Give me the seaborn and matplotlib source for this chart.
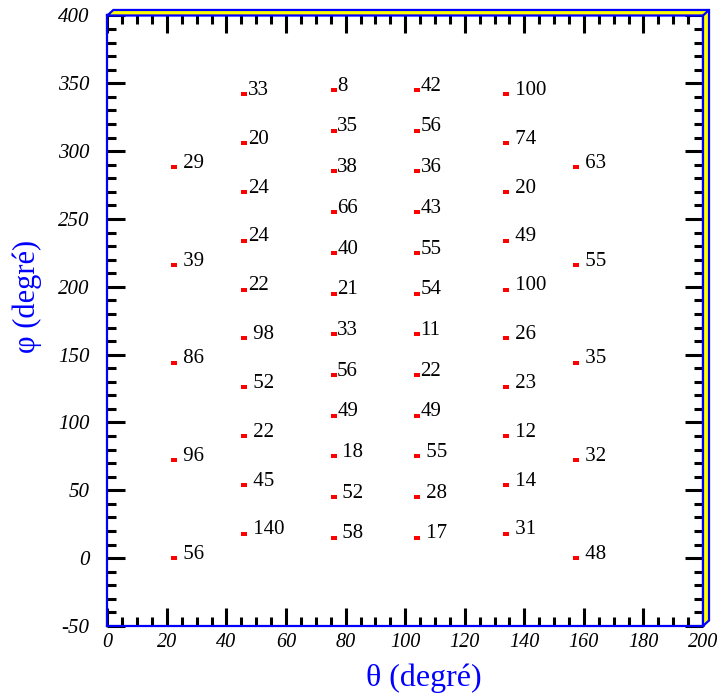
import matplotlib
matplotlib.use("Agg")
import matplotlib.pyplot as plt
from matplotlib.patches import Polygon
from matplotlib.ticker import MultipleLocator
import pandas as pd
import seaborn as sns

# theta position of each column of points
theta_cols = [22.5, 46, 76, 104, 134, 157.5]

# phi positions (three different grids)
phi_five = [0, 72, 144, 216, 288]
phi_ten = [18, 54, 90, 126, 162, 198, 234, 270, 306, 342]
phi_twelve = [15, 45, 75, 105, 135, 165, 195, 225, 255, 285, 315, 345]

# labels, bottom to top (leading space = gap after the marker)
labels_22 = [" 56", " 96", " 86", " 39", " 29"]
labels_46 = [" 140", " 45", " 22", " 52", " 98", "22", "24", "24", "20", "33"]
labels_76 = [" 58", " 52", " 18", "49", "56", "33", "21", "40", "66", "38", "35", "8"]
labels_104 = [" 17", " 28", " 55", "49", "22", "11", "54", "55", "43", "36", "56", "42"]
labels_134 = [" 31", " 14", " 12", " 23", " 26", " 100", " 49", " 20", " 74", " 100"]
labels_157 = [" 48", " 32", " 35", " 55", " 63"]

columns = [
    (theta_cols[0], phi_five, labels_22),
    (theta_cols[1], phi_ten, labels_46),
    (theta_cols[2], phi_twelve, labels_76),
    (theta_cols[3], phi_twelve, labels_104),
    (theta_cols[4], phi_ten, labels_134),
    (theta_cols[5], phi_five, labels_157),
]

rows = []
for th, phis, labs in columns:
    for p, lab in zip(phis, labs):
        rows.append({"theta": th, "phi": p, "label": lab})
df = pd.DataFrame(rows)

sns.set_style("white")
plt.rcParams["font.family"] = ["Liberation Serif", "DejaVu Serif"]
plt.rcParams["axes.unicode_minus"] = False

fig = plt.figure(figsize=(7.17, 6.94), dpi=100)
ax = fig.add_axes([0.1497, 0.098, 0.8308, 0.8797])

rect = [(-1, -0.65), (1, -0.65), (1, 0.65), (-1, 0.65)]
sns.scatterplot(data=df, x="theta", y="phi", ax=ax, color="red", marker=rect,
                s=20, linewidth=0, legend=False, zorder=3)

for _, r in df.iterrows():
    ax.annotate(r["label"], (r["theta"], r["phi"]), xytext=(2.5, -0.5),
                textcoords="offset points", ha="left", va="baseline",
                fontsize=15, color="black")

ax.set_xlim(0, 200)
ax.set_ylim(-50, 400)
ax.xaxis.set_major_locator(MultipleLocator(20))
ax.xaxis.set_minor_locator(MultipleLocator(5))
ax.yaxis.set_major_locator(MultipleLocator(50))
ax.yaxis.set_minor_locator(MultipleLocator(10))
ax.tick_params(which="both", direction="in", top=True, right=True,
               bottom=True, left=True, color="black", width=2.2)
ax.tick_params(which="major", length=13, labelcolor="black")
ax.tick_params(which="minor", length=6.5)
ax.tick_params(axis="x", which="major", pad=5, labelsize=14.5)
ax.tick_params(axis="y", which="major", pad=13, labelsize=15)
for lab in ax.get_xticklabels() + ax.get_yticklabels():
    lab.set_fontstyle("italic")

for sp in ax.spines.values():
    sp.set_color("blue")
    sp.set_linewidth(1.6)

ax.set_xlabel("θ (degré)", color="blue", fontsize=23)
ax.set_ylabel("φ (degré)", color="blue", fontsize=22)
ax.xaxis.set_label_coords(0.532, -0.062)
ax.yaxis.set_label_coords(-0.11, 0.54)

# 3D-looking yellow band on top and right of the frame
pos = ax.get_position()
x0, y0, x1, y1 = pos.x0, pos.y0, pos.x1, pos.y1
dx = 6 / 717
dy = 5.5 / 694
band = Polygon([(x0, y1), (x1, y1), (x1, y0), (x1 + dx, y0 + dy),
                (x1 + dx, y1 + dy), (x0 + dx, y1 + dy)],
               closed=True, transform=fig.transFigure, facecolor="yellow",
               edgecolor="blue", linewidth=1.6, zorder=5)
fig.add_artist(band)
fig.add_artist(plt.Line2D([x1, x1 + dx], [y1, y1 + dy], transform=fig.transFigure,
                          color="blue", linewidth=1.6, zorder=6))

fig.savefig("out.png", dpi=100)
